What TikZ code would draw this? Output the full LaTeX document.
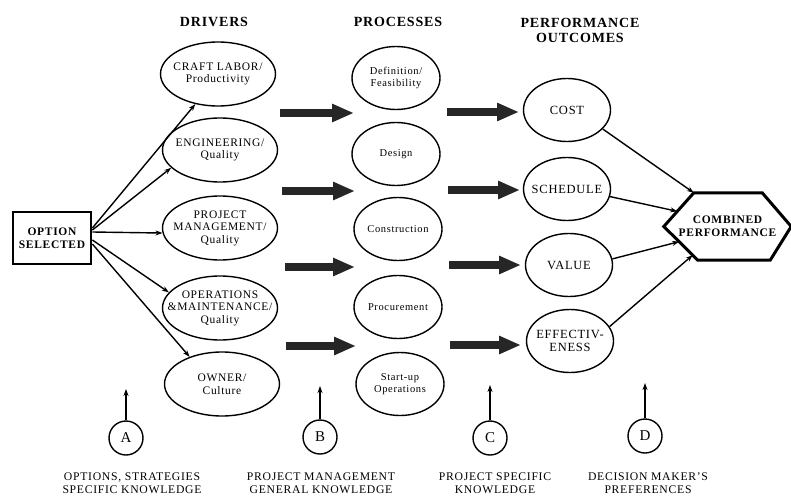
\documentclass[tikz,border=0pt]{standalone}
\usepackage{fontspec}
\setmainfont{Liberation Serif}[LetterSpace=6]
\usetikzlibrary{shapes.geometric,arrows.meta,calc}
\begin{document}
\begin{tikzpicture}[x=1pt,y=-1pt,
  every node/.style={inner sep=0pt, align=center},
  ttl/.style={font=\fontsize{14}{15}\selectfont\bfseries},
  oval/.style={ellipse, draw, line width=1.4pt, inner sep=-14pt},
  drv/.style={oval, minimum width=115pt, minimum height=64pt, font=\fontsize{11.5}{12.5}\selectfont},
  prc/.style={oval, minimum width=88pt, minimum height=63pt, font=\fontsize{10.5}{12.5}\selectfont},
  outc/.style={oval, minimum width=87pt, minimum height=63pt, font=\fontsize{12.5}{13}\selectfont},
  lbl/.style={circle, draw, line width=1.4pt, minimum size=34pt, font=\fontsize{15}{15}\selectfont},
  note/.style={font=\fontsize{11.7}{13}\selectfont},
  thinarrow/.style={line width=1.4pt, -{Stealth[length=7pt,width=5pt]}},
  bigarrow/.style={line width=8pt, black!85, -{Triangle[length=22pt,width=17pt]}},
]
\useasboundingbox (0,0) rectangle (791,500);

% column headings
\node[ttl] (tdrv) at (214,22) {DRIVERS};
\node[ttl] (tprc) at (398,22) {PROCESSES};
\node[ttl] (tout) at (580,30) {PERFORMANCE\\OUTCOMES};

% selected option
\node[draw, line width=2.8pt, minimum width=78pt, minimum height=52pt,
      font=\fontsize{11.5}{13}\selectfont\bfseries] (opt) at (52,238) {OPTION\\SELECTED};

% drivers
\node[drv] (craft) at (218,74)  {CRAFT LABOR/\\Productivity};
\node[drv] (eng)   at (220,150) {ENGINEERING/\\Quality};
\node[drv] (pm)    at (220,228) {PROJECT\\MANAGEMENT/\\Quality};
\node[drv] (om)    at (220,308) {OPERATIONS\\\&MAINTENANCE/\\Quality};
\node[drv] (own)   at (222,384) {OWNER/\\Culture};

% processes
\node[prc] (p1) at (396,78)  {Definition/\\Feasibility};
\node[prc] (p2) at (396,154) {Design};
\node[prc] (p3) at (398,229) {Construction};
\node[prc] (p4) at (398,307) {Procurement};
\node[prc] (p5) at (400,384) {Start-up\\Operations};

% performance outcomes
\node[outc] (cost)  at (567,110) {COST};
\node[outc] (sched) at (567,189) {SCHEDULE};
\node[outc] (val)   at (569,265) {VALUE};
\node[outc] (eff)   at (570,341) {EFFECTIV-\\ENESS};

% combined performance hexagon
\node[minimum width=127pt, minimum height=67pt,
      font=\fontsize{11.5}{13}\selectfont\bfseries] (comb) at (727.5,226.5) {COMBINED\\PERFORMANCE};
\coordinate (hnw) at ($(comb.north west)+(30,0)$);
\coordinate (hne) at ($(comb.north east)+(-29,0)$);
\coordinate (hse) at ($(comb.south east)+(-21,0)$);
\coordinate (hsw) at ($(comb.south west)+(34,0)$);
\draw[line width=3pt, line join=miter] (comb.west) -- (hnw) -- (hne) -- (comb.east) -- (hse) -- (hsw) -- cycle;
\coordinate (hin2) at ($(comb.west)!0.45!(hnw)$);
\coordinate (hin3) at ($(comb.west)!0.45!(hsw)$);
\coordinate (hin4) at ($(comb.west)!0.85!(hsw)$);

% option to drivers
\draw[thinarrow] ([yshift=10pt]opt.east) -- (craft.233);
\draw[thinarrow] ([yshift=8pt]opt.east)  -- (eng.200);
\draw[thinarrow] ([yshift=6pt]opt.east)  -- (pm.185);
\draw[thinarrow] ([yshift=-2pt]opt.east) -- (om.163);
\draw[thinarrow] ([yshift=-6pt]opt.east) -- (own.140);

% outcomes to combined performance
\draw[thinarrow] (cost.-28)  -- (hnw);
\draw[thinarrow] (sched.-10) -- (hin2);
\draw[thinarrow] (val.8)     -- (hin3);
\draw[thinarrow] (eff.20)    -- (hin4);

% broad flow arrows
\foreach \i/\xa/\xb/\y in {1/280/354/113, 2/282/355/191, 3/285/355/267, 4/286/356/346,
                            5/447/519/112, 6/448/520/190, 7/449/521/265, 8/450/521/345} {
  \coordinate (fs\i) at (\xa,\y);
  \coordinate (fe\i) at (\xb,\y);
  \draw[bigarrow] (fs\i) -- (fe\i);
}

% knowledge sources
\node[lbl] (A) at (126,438) {A};
\node[lbl] (B) at (320,437) {B};
\node[lbl] (C) at (490,438) {C};
\node[lbl] (D) at (645,436) {D};
\coordinate (tA) at (126,389);
\coordinate (tB) at (320,386);
\coordinate (tC) at (490,385);
\coordinate (tD) at (645,383);
\draw[thinarrow] (A.north) -- (tA);
\draw[thinarrow] (B.north) -- (tB);
\draw[thinarrow] (C.north) -- (tC);
\draw[thinarrow] (D.north) -- (tD);

\node[note] (nA) at (132,483.5) {OPTIONS, STRATEGIES\\SPECIFIC KNOWLEDGE};
\node[note] (nB) at (321,483.5) {PROJECT MANAGEMENT\\GENERAL KNOWLEDGE};
\node[note] (nC) at (495,483.5) {PROJECT SPECIFIC\\KNOWLEDGE};
\node[note] (nD) at (648,483.5) {DECISION MAKER'S\\PREFERENCES};
\end{tikzpicture}
\end{document}
